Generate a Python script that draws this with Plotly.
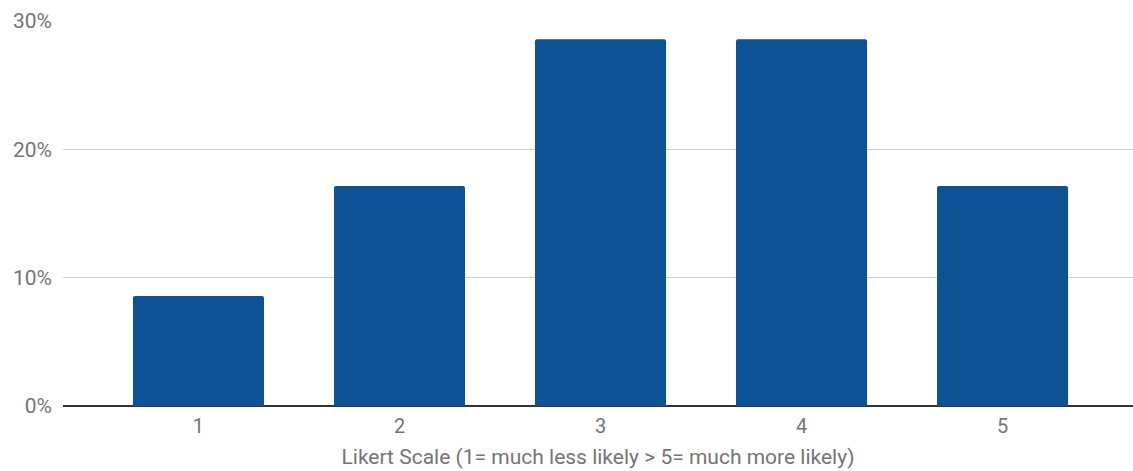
import plotly.graph_objects as go

categories = [1, 2, 3, 4, 5]
shares = [3 / 35, 6 / 35, 10 / 35, 10 / 35, 6 / 35]
y_ticks = [0, 0.1, 0.2, 0.3]
y_tick_labels = ["0%", "10%", "20%", "30%"]

fig = go.Figure(
    go.Bar(
        x=categories,
        y=shares,
        width=0.652,
        marker=dict(color="#0d5295", line=dict(width=0), cornerradius=2),
        hoverinfo="skip",
    )
)

fig.update_layout(
    width=1133,
    height=471,
    margin=dict(l=63, r=0, t=21, b=65),
    paper_bgcolor="white",
    plot_bgcolor="white",
    font=dict(family="Roboto", color="#757575", size=20),
    showlegend=False,
)

fig.update_xaxes(
    range=[0.326, 5.649],
    tickvals=categories,
    ticktext=[str(c) for c in categories],
    showgrid=False,
    zeroline=False,
    showline=False,
    ticks="",
    ticklabelstandoff=6,
    tickfont=dict(size=20, color="#757575"),
    title=dict(
        text="Likert Scale (1= much less likely > 5= much more likely)",
        font=dict(size=21, color="#757575"),
        standoff=12,
    ),
)

fig.update_yaxes(
    range=[0, 0.3],
    tickvals=y_ticks,
    ticktext=y_tick_labels,
    showgrid=True,
    gridcolor="#cccccc",
    gridwidth=1,
    zeroline=True,
    zerolinecolor="#333333",
    zerolinewidth=1.5,
    showline=False,
    ticks="",
    ticklabelstandoff=10,
    tickfont=dict(size=21, color="#757575"),
)

fig.write_html("out.html")
